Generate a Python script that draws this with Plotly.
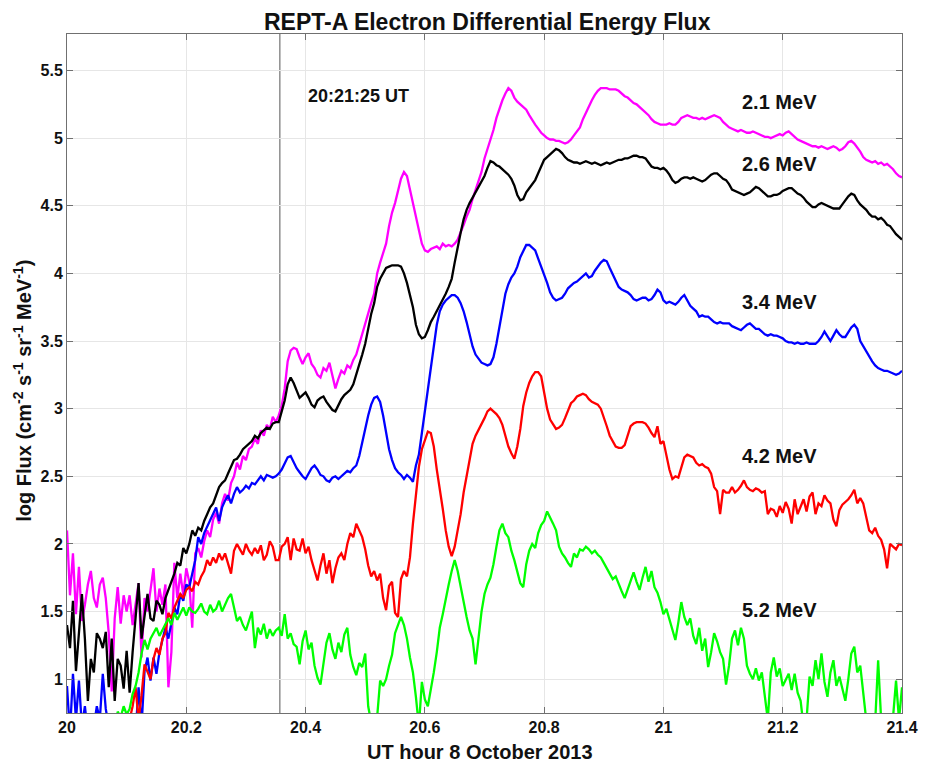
import plotly.graph_objects as go

# sampling grid of the REPT-A record (hours UT, 8 Oct 2013), 0.005 h spacing
T = [round(20 + 0.005 * i, 3) for i in range(281)]

FLUX_2_1 = [
    2.10,1.62,1.93,1.48,1.83,1.43,1.55,1.70,1.80,1.60,
    1.53,1.70,1.75,1.60,1.34,0.91,1.45,1.68,1.41,1.62,
    1.50,1.62,1.40,1.55,1.71,1.16,1.60,1.50,1.65,1.82,
    1.50,1.67,1.55,1.70,0.94,1.20,1.86,1.60,1.78,1.62,
    1.82,1.72,1.38,1.93,1.97,1.90,2.02,2.10,2.05,2.18,
    2.23,2.15,2.30,2.37,2.32,2.45,2.50,2.60,2.55,2.65,
    2.62,2.70,2.72,2.78,2.74,2.84,2.80,2.88,2.85,2.94,
    2.90,2.95,3.02,3.15,3.35,3.43,3.45,3.44,3.38,3.33,
    3.38,3.41,3.33,3.30,3.25,3.23,3.30,3.28,3.34,3.25,
    3.15,3.22,3.28,3.26,3.32,3.30,3.36,3.40,3.48,3.55,
    3.62,3.70,3.78,3.85,4.00,4.08,4.15,4.22,4.35,4.45,
    4.52,4.62,4.70,4.75,4.72,4.62,4.52,4.40,4.30,4.22,
    4.17,4.16,4.18,4.19,4.20,4.18,4.22,4.20,4.21,4.20,
    4.22,4.25,4.30,4.36,4.42,4.47,4.55,4.62,4.68,4.75,
    4.85,4.92,5.00,5.06,5.15,5.22,5.28,5.33,5.37,5.35,
    5.30,5.27,5.25,5.23,5.21,5.17,5.13,5.10,5.07,5.04,
    5.02,5.00,4.99,4.99,4.98,4.98,4.97,4.96,4.97,4.99,
    5.02,5.05,5.08,5.14,5.19,5.24,5.28,5.32,5.35,5.37,
    5.37,5.37,5.36,5.36,5.36,5.35,5.33,5.31,5.30,5.28,
    5.26,5.25,5.23,5.21,5.19,5.17,5.14,5.12,5.11,5.10,
    5.10,5.10,5.11,5.10,5.10,5.12,5.15,5.16,5.17,5.16,
    5.15,5.15,5.14,5.15,5.14,5.15,5.16,5.17,5.16,5.15,
    5.12,5.10,5.08,5.07,5.06,5.05,5.06,5.05,5.04,5.04,
    5.05,5.04,5.03,5.02,5.01,5.01,5.00,5.01,5.02,5.03,
    5.02,5.04,5.05,5.03,5.01,4.99,4.98,4.97,4.96,4.95,
    4.94,4.94,4.93,4.94,4.93,4.92,4.93,4.94,4.93,4.91,
    4.92,4.94,4.97,4.98,4.96,4.93,4.90,4.86,4.84,4.83,
    4.82,4.83,4.81,4.82,4.80,4.81,4.79,4.77,4.74,4.72,
    4.71,
]

FLUX_2_6 = [
    1.40,1.23,1.58,1.06,1.34,1.63,1.30,0.84,1.15,1.05,
    1.34,1.30,1.23,1.35,0.94,1.30,0.84,1.15,1.10,0.93,
    1.21,0.90,1.20,1.43,1.71,1.30,1.48,1.63,1.45,1.43,
    1.58,1.55,1.48,1.60,1.66,1.72,1.78,1.86,1.84,1.97,
    1.93,2.00,2.10,2.06,2.12,2.10,2.17,2.22,2.27,2.30,
    2.36,2.42,2.45,2.47,2.52,2.57,2.62,2.63,2.66,2.70,
    2.72,2.74,2.76,2.80,2.78,2.82,2.84,2.86,2.85,2.89,
    2.90,2.90,2.98,3.06,3.18,3.23,3.19,3.14,3.08,3.10,
    3.12,3.08,3.03,3.01,3.06,3.08,3.09,3.05,3.02,2.99,
    2.98,3.03,3.07,3.10,3.12,3.14,3.18,3.25,3.32,3.40,
    3.48,3.60,3.70,3.78,3.90,3.96,4.00,4.04,4.05,4.06,
    4.06,4.06,4.05,4.00,3.93,3.83,3.75,3.62,3.55,3.52,
    3.53,3.58,3.64,3.68,3.72,3.77,3.80,3.85,3.90,3.96,
    4.08,4.20,4.30,4.40,4.47,4.52,4.56,4.60,4.64,4.68,
    4.72,4.78,4.83,4.82,4.80,4.79,4.77,4.75,4.73,4.70,
    4.65,4.58,4.54,4.55,4.60,4.63,4.66,4.69,4.74,4.79,
    4.84,4.86,4.88,4.90,4.92,4.91,4.89,4.86,4.84,4.83,
    4.82,4.82,4.81,4.82,4.83,4.82,4.81,4.82,4.81,4.80,
    4.81,4.82,4.81,4.82,4.83,4.84,4.84,4.85,4.85,4.86,
    4.87,4.87,4.86,4.86,4.85,4.82,4.79,4.78,4.78,4.77,
    4.78,4.76,4.73,4.69,4.67,4.68,4.70,4.71,4.71,4.70,
    4.71,4.70,4.69,4.68,4.69,4.71,4.73,4.74,4.74,4.72,
    4.70,4.69,4.66,4.62,4.61,4.60,4.59,4.58,4.59,4.60,
    4.62,4.64,4.63,4.61,4.59,4.57,4.57,4.58,4.58,4.59,
    4.61,4.62,4.63,4.63,4.61,4.59,4.58,4.56,4.53,4.51,
    4.49,4.49,4.51,4.52,4.51,4.50,4.49,4.48,4.48,4.48,
    4.51,4.54,4.57,4.59,4.58,4.54,4.51,4.49,4.47,4.44,
    4.42,4.42,4.40,4.41,4.39,4.36,4.35,4.32,4.29,4.27,
    4.25,
]

FLUX_3_4 = [
    0.95,0.60,1.04,0.70,0.99,0.65,0.80,0.60,0.70,0.65,
    0.80,0.70,1.04,0.78,0.65,0.60,0.70,0.65,0.60,0.72,
    0.60,0.70,0.65,0.60,0.94,0.65,1.06,1.16,0.99,1.16,
    1.04,1.20,1.29,1.38,1.30,1.43,1.53,1.48,1.63,1.58,
    1.70,1.68,1.78,1.88,2.05,2.00,2.08,2.13,2.17,2.22,
    2.27,2.17,2.27,2.32,2.36,2.30,2.37,2.42,2.38,2.40,
    2.43,2.41,2.45,2.44,2.47,2.50,2.47,2.51,2.50,2.49,
    2.50,2.52,2.55,2.60,2.64,2.65,2.60,2.56,2.53,2.50,
    2.48,2.52,2.56,2.58,2.55,2.51,2.50,2.47,2.46,2.49,
    2.50,2.48,2.50,2.52,2.54,2.53,2.56,2.58,2.65,2.75,
    2.86,2.95,3.03,3.08,3.09,3.05,2.95,2.82,2.70,2.62,
    2.56,2.53,2.51,2.48,2.51,2.49,2.46,2.58,2.66,2.82,
    2.98,3.15,3.30,3.50,3.62,3.72,3.77,3.80,3.82,3.84,
    3.84,3.82,3.78,3.72,3.64,3.55,3.46,3.40,3.37,3.34,
    3.33,3.32,3.33,3.38,3.48,3.60,3.73,3.85,3.92,3.97,
    4.00,4.05,4.12,4.17,4.21,4.21,4.19,4.17,4.11,4.05,
    4.00,3.93,3.86,3.82,3.80,3.81,3.82,3.85,3.89,3.91,
    3.93,3.94,3.96,3.98,4.00,3.97,3.98,4.02,4.05,4.08,
    4.10,4.09,4.04,3.99,3.94,3.90,3.88,3.87,3.86,3.84,
    3.81,3.80,3.81,3.82,3.82,3.80,3.81,3.84,3.88,3.86,
    3.80,3.78,3.79,3.78,3.77,3.79,3.82,3.84,3.80,3.76,
    3.74,3.72,3.68,3.69,3.68,3.68,3.66,3.64,3.63,3.64,
    3.63,3.63,3.63,3.61,3.60,3.59,3.58,3.60,3.62,3.63,
    3.61,3.59,3.59,3.57,3.55,3.54,3.55,3.54,3.54,3.53,
    3.52,3.50,3.49,3.49,3.48,3.49,3.48,3.48,3.49,3.48,
    3.48,3.48,3.50,3.53,3.57,3.53,3.50,3.54,3.58,3.55,
    3.53,3.53,3.57,3.60,3.62,3.59,3.50,3.46,3.43,3.38,
    3.35,3.32,3.30,3.29,3.28,3.28,3.27,3.26,3.25,3.26,
    3.28,
]

FLUX_4_2 = [
    0.55,0.60,0.50,0.58,0.62,0.55,0.50,0.60,0.52,0.58,
    0.55,0.60,0.50,0.62,0.56,0.50,0.60,0.55,0.62,0.58,
    0.65,0.70,0.80,0.94,0.70,0.88,1.11,1.05,1.00,1.15,
    1.23,1.18,1.30,1.34,1.49,1.45,1.53,1.58,1.63,1.60,
    1.66,1.68,1.65,1.72,1.70,1.76,1.80,1.88,1.84,1.90,
    1.86,1.93,1.88,1.93,1.86,1.78,1.95,2.00,1.96,1.92,
    2.00,1.95,1.92,1.97,1.93,1.99,1.88,1.92,2.02,1.98,
    1.88,1.88,1.98,2.00,2.05,1.88,2.04,1.96,1.95,2.04,
    1.93,1.98,1.88,1.80,1.73,1.84,1.93,1.78,1.88,1.71,
    1.82,1.90,1.93,1.88,2.00,2.08,2.05,2.15,2.10,2.05,
    1.96,1.84,1.76,1.80,1.73,1.78,1.60,1.51,1.69,1.72,
    1.49,1.46,1.74,1.80,1.76,1.90,2.15,2.35,2.57,2.70,
    2.77,2.83,2.82,2.72,2.55,2.42,2.26,2.10,1.98,1.91,
    1.98,2.10,2.22,2.38,2.50,2.65,2.74,2.80,2.84,2.88,
    2.93,2.98,3.00,2.98,2.96,2.93,2.88,2.80,2.72,2.67,
    2.63,2.72,2.85,3.02,3.12,3.19,3.24,3.27,3.27,3.24,
    3.12,3.00,2.92,2.88,2.85,2.86,2.88,2.93,2.98,3.04,
    3.06,3.09,3.10,3.11,3.10,3.07,3.05,3.04,3.03,3.00,
    2.94,2.87,2.80,2.76,2.72,2.71,2.71,2.73,2.80,2.87,
    2.89,2.90,2.90,2.90,2.89,2.86,2.82,2.79,2.87,2.74,
    2.76,2.66,2.55,2.48,2.50,2.49,2.56,2.64,2.66,2.65,
    2.64,2.60,2.58,2.59,2.57,2.56,2.52,2.42,2.39,2.22,
    2.40,2.38,2.38,2.42,2.38,2.40,2.43,2.47,2.42,2.40,
    2.39,2.41,2.40,2.38,2.39,2.22,2.26,2.25,2.20,2.28,
    2.23,2.31,2.26,2.15,2.33,2.22,2.28,2.33,2.24,2.35,
    2.38,2.22,2.30,2.28,2.36,2.32,2.30,2.18,2.13,2.25,
    2.29,2.31,2.33,2.36,2.40,2.30,2.34,2.30,2.20,2.10,
    2.08,2.12,2.06,2.03,1.96,1.82,2.00,1.98,1.96,2.00,
    1.99,
]

FLUX_5_2 = [
    0.40,0.45,0.50,0.42,0.48,0.50,0.45,0.40,0.50,0.46,
    0.50,0.55,0.52,0.60,0.58,0.62,0.60,0.76,0.72,0.80,
    0.74,0.78,0.89,0.95,1.05,1.19,1.29,1.22,1.30,1.34,
    1.38,1.32,1.36,1.41,1.45,1.40,1.49,1.44,1.48,1.53,
    1.47,1.53,1.50,1.49,1.52,1.56,1.50,1.48,1.55,1.50,
    1.52,1.58,1.50,1.55,1.60,1.63,1.52,1.43,1.46,1.40,
    1.36,1.44,1.50,1.23,1.38,1.33,1.41,1.30,1.37,1.32,
    1.36,1.38,1.32,1.48,1.30,1.34,1.26,1.24,1.11,1.28,
    1.36,1.22,1.27,1.10,1.01,0.96,1.12,1.27,1.34,1.22,
    1.15,1.27,1.20,1.33,1.38,1.18,1.09,1.03,1.12,1.09,
    1.19,0.80,0.68,0.65,0.72,0.99,0.95,1.00,1.10,1.18,
    1.34,1.40,1.46,1.40,1.30,1.16,1.05,0.87,0.65,0.98,
    0.85,0.80,0.92,1.05,1.20,1.38,1.48,1.60,1.70,1.80,
    1.88,1.80,1.68,1.55,1.46,1.36,1.30,1.11,1.30,1.50,
    1.63,1.70,1.75,1.85,1.98,2.10,2.15,2.08,2.05,1.95,
    1.88,1.80,1.71,1.68,1.85,1.95,2.00,1.97,2.08,2.14,
    2.17,2.24,2.20,2.15,2.10,1.98,1.93,1.90,1.86,1.83,
    1.93,1.90,1.96,1.95,1.98,1.96,1.93,1.95,1.92,1.90,
    1.86,1.82,1.79,1.74,1.76,1.70,1.65,1.60,1.66,1.72,
    1.79,1.72,1.66,1.75,1.83,1.72,1.80,1.68,1.64,1.57,
    1.48,1.52,1.44,1.38,1.29,1.42,1.57,1.46,1.40,1.45,
    1.32,1.26,1.38,1.21,1.30,1.09,1.20,1.34,1.28,1.20,
    1.15,0.96,1.10,1.30,1.36,1.25,1.38,1.30,1.10,1.04,
    1.00,1.08,0.99,1.05,0.89,0.70,1.05,1.16,1.02,1.08,
    0.95,0.99,1.04,0.92,1.04,0.90,0.84,0.65,0.70,1.02,
    0.95,1.14,1.00,1.19,0.98,0.87,1.05,1.14,0.95,1.02,
    0.92,0.84,1.00,1.19,1.24,1.05,1.10,0.92,0.70,0.65,
    0.70,0.68,1.14,0.70,0.65,0.68,0.70,0.72,0.99,0.70,
    0.94,
]

SERIES = [FLUX_2_1, FLUX_2_6, FLUX_3_4, FLUX_4_2, FLUX_5_2]
ENERGY_LABELS = ["2.1 MeV", "2.6 MeV", "3.4 MeV", "4.2 MeV", "5.2 MeV"]
COLORS = ["#ff00ff", "#000000", "#0000ff", "#ff0000", "#00ff00"]
LABEL_X = 21.195
LABEL_Y = [5.27, 4.81, 3.79, 2.65, 1.51]

EVENT_T = 20 + 21 / 60 + 25 / 3600
EVENT_TEXT = "20:21:25 UT"

X_TICKS = [20, 20.2, 20.4, 20.6, 20.8, 21, 21.2, 21.4]
X_TICKTEXT = ["20", "20.2", "20.4", "20.6", "20.8", "21", "21.2", "21.4"]
Y_TICKS = [1, 1.5, 2, 2.5, 3, 3.5, 4, 4.5, 5, 5.5]
Y_TICKTEXT = ["1", "1.5", "2", "2.5", "3", "3.5", "4", "4.5", "5", "5.5"]
X_RANGE = [20, 21.4]
Y_RANGE = [0.75, 5.77]

for s in SERIES:
    assert len(s) == len(T), len(s)

FONT = "Liberation Sans, Arial, Helvetica, sans-serif"
TXT = "#111111"
AX = "#707070"

fig = go.Figure()
for name, ys, c in zip(ENERGY_LABELS, SERIES, COLORS):
    fig.add_trace(go.Scatter(x=T, y=ys, mode="lines", name=name,
                             line=dict(color=c, width=2.3), showlegend=False))

fig.add_shape(type="line", xref="x", yref="paper", x0=EVENT_T, x1=EVENT_T,
              y0=0, y1=1, line=dict(color="#555555", width=1), layer="between")

for txt, y in zip(ENERGY_LABELS, LABEL_Y):
    fig.add_annotation(x=LABEL_X, y=y, xref="x", yref="y", text="<b>%s</b>" % txt,
                       showarrow=False, xanchor="center", yanchor="middle",
                       font=dict(family=FONT, size=20, color=TXT))
fig.add_annotation(x=20.4, y=5.31, xref="x", yref="y", text="<b>%s</b>" % EVENT_TEXT,
                   showarrow=False, xanchor="left", yanchor="middle",
                   font=dict(family=FONT, size=18, color=TXT))

# axis titles and chart title
fig.add_annotation(x=-0.0535, y=0.475, xref="paper", yref="paper", textangle=-90,
                   text="<b>log Flux (cm<sup>-2</sup> s<sup>-1</sup> sr<sup>-1</sup> MeV<sup>-1</sup>)</b>",
                   showarrow=False, xanchor="center", yanchor="middle",
                   font=dict(family=FONT, size=20, color=TXT))
fig.add_annotation(x=0.495, y=-0.057, xref="paper", yref="paper",
                   text="<b>UT hour 8 October 2013</b>",
                   showarrow=False, xanchor="center", yanchor="middle",
                   font=dict(family=FONT, size=20, color=TXT))
fig.add_annotation(x=0.503, y=1.0, xref="paper", yref="paper", yshift=12,
                   text="<b>REPT-A Electron Differential Energy Flux</b>",
                   showarrow=False, xanchor="center", yanchor="middle",
                   font=dict(family=FONT, size=23, color=TXT))

axis_common = dict(showgrid=True, gridcolor="#e6e6e6", gridwidth=1, zeroline=False,
                   showline=True, linecolor=AX, linewidth=1, mirror="ticks",
                   ticks="inside", ticklen=6, tickcolor=AX, tickwidth=1,
                   tickfont=dict(family=FONT, size=16, color=TXT, weight="bold"))

# the page adds an 8 px body margin, so the figure is sized to land the plot
# area at the reference position (67..908 x 34..713 in the window)
fig.update_layout(
    width=922, height=757,
    margin=dict(l=59, r=22, t=26, b=52),
    paper_bgcolor="white", plot_bgcolor="white",
    xaxis=dict(range=X_RANGE, tickvals=X_TICKS, ticktext=X_TICKTEXT, **axis_common),
    yaxis=dict(range=Y_RANGE, tickvals=Y_TICKS, ticktext=Y_TICKTEXT, **axis_common),
)

fig.write_html("out.html", config={"displayModeBar": False})
